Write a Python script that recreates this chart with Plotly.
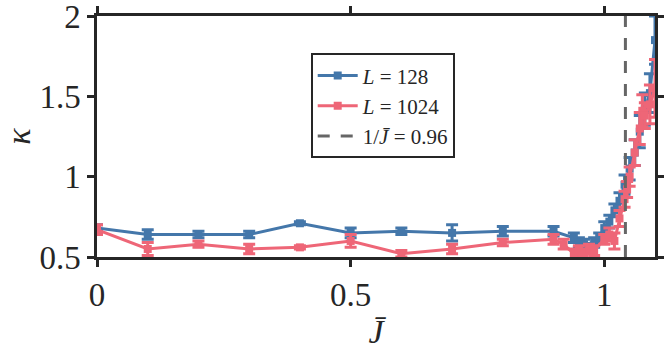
import plotly.graph_objects as go

# L = 128
j_128 = [0, 0.1, 0.2, 0.3, 0.4, 0.5, 0.6, 0.7, 0.8, 0.9, 0.94, 0.95, 0.96, 0.98, 0.99,
         1.0, 1.01, 1.02, 1.03, 1.04, 1.05, 1.06, 1.07, 1.08, 1.09, 1.1]
k_128 = [0.68, 0.64, 0.64, 0.64, 0.71, 0.65, 0.66, 0.65, 0.66, 0.66, 0.62, 0.59, 0.58, 0.59, 0.62,
         0.68, 0.72, 0.79, 0.85, 0.95, 1.05, 1.15, 1.28, 1.42, 1.52, 1.85]
e_128 = [0.02, 0.03, 0.02, 0.02, 0.01, 0.03, 0.02, 0.05, 0.03, 0.03, 0.03, 0.03, 0.03, 0.03, 0.03,
         0.04, 0.04, 0.04, 0.05, 0.06, 0.07, 0.08, 0.1, 0.1, 0.12, 0.15]

# L = 1024
j_1024 = [0, 0.1, 0.2, 0.3, 0.4, 0.5, 0.6, 0.7, 0.8, 0.9, 0.92, 0.94, 0.95, 0.96, 0.97, 0.98,
          1.0, 1.01, 1.02, 1.03, 1.04, 1.045, 1.05, 1.06, 1.07, 1.075, 1.08, 1.09, 1.1]
k_1024 = [0.67, 0.55, 0.58, 0.55, 0.56, 0.60, 0.52, 0.55, 0.59, 0.61, 0.58, 0.52, 0.54, 0.52, 0.55, 0.54,
          0.61, 0.64, 0.60, 0.74, 0.86, 0.92, 1.0, 1.15, 1.30, 1.41, 1.38, 1.45, 1.55]
e_1024 = [0.03, 0.04, 0.02, 0.03, 0.01, 0.04, 0.02, 0.03, 0.02, 0.03, 0.03, 0.03, 0.03, 0.03, 0.03, 0.03,
          0.03, 0.04, 0.05, 0.05, 0.05, 0.05, 0.06, 0.08, 0.1, 0.1, 0.08, 0.12, 0.18]

j_bar = 0.96
blue = "#4477AA"
red = "#EE6677"
axis_col = "#262626"
font = "Liberation Serif"

fig = go.Figure()

fig.add_trace(go.Scatter(
    x=j_128, y=k_128, mode="lines+markers", name="<i>L</i> = 128",
    line=dict(color=blue, width=3), marker=dict(symbol="square", size=8, color=blue),
    error_y=dict(type="data", array=e_128, color=blue, thickness=3, width=6),
))
fig.add_trace(go.Scatter(
    x=j_1024, y=k_1024, mode="lines+markers", name="<i>L</i> = 1024",
    line=dict(color=red, width=3), marker=dict(symbol="square", size=8, color=red),
    error_y=dict(type="data", array=e_1024, color=red, thickness=3, width=6),
))
fig.add_trace(go.Scatter(
    x=[1 / j_bar, 1 / j_bar], y=[0.5, 2], mode="lines", name="1/<i>J̄</i> = 0.96",
    line=dict(color="#666666", width=3, dash="12px,11px"),
))

axis = dict(
    showline=True, linecolor=axis_col, linewidth=2.5, mirror="ticks",
    ticks="outside", ticklen=7, tickwidth=2.5, tickcolor=axis_col,
    showgrid=False, zeroline=False, automargin=False, ticklabeloverflow="allow",
    tickfont=dict(family=font, size=33, color=axis_col),
)

fig.update_xaxes(axis, range=[0, 1.1], tickvals=[0, 0.5, 1], ticktext=["0", "0.5", "1"],
                 title=dict(text="<i>J̄</i>", font=dict(family=font, size=34, color=axis_col), standoff=2))
fig.update_yaxes(axis, range=[0.5, 2], tickvals=[0.5, 1, 1.5, 2], ticktext=["0.5", "1", "1.5", "2"],
                 title=dict(text="<i>κ</i>", font=dict(family=font, size=34, color=axis_col), standoff=8))

fig.update_layout(
    width=664, height=352,
    margin=dict(l=97, r=9, t=16, b=95),
    plot_bgcolor="white", paper_bgcolor="white",
    legend=dict(
        x=0.383, y=0.845, xanchor="left", yanchor="top",
        bordercolor=axis_col, borderwidth=2, bgcolor="white",
        font=dict(family=font, size=21, color=axis_col),
        tracegroupgap=0, itemwidth=40,
    ),
)

# drop the page's default body margin so the figure sits at the window corner
fig.write_html("out.html", config={"displayModeBar": False},
               post_script="document.body.style.margin='0';")
